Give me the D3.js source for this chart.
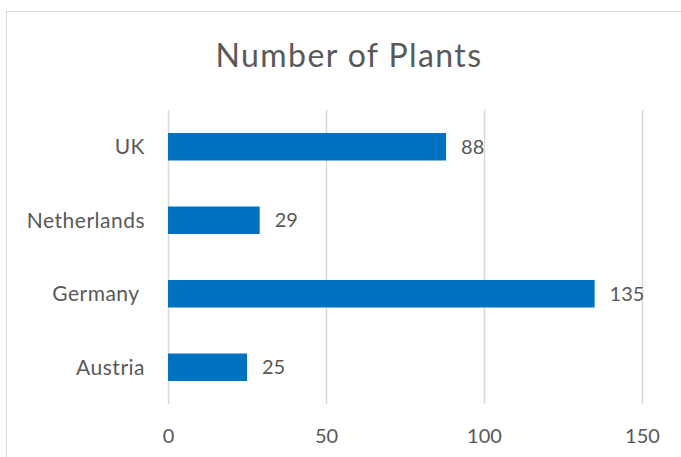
<!DOCTYPE html>
<html>
<head>
<meta charset="utf-8">
<script src="https://cdn.jsdelivr.net/npm/d3@7/dist/d3.min.js"></script>
<style>
  html, body { margin: 0; padding: 0; background: #fff; }
  svg { display: block; }
  text { font-family: Lato, "Open Sans", sans-serif; fill: #595959; }
</style>
</head>
<body>
<svg id="chart" width="681" height="457"></svg>
<script>
const title = "Number of Plants";
const categories = ["UK", "Netherlands", "Germany ", "Austria"];
const values = [88, 29, 135, 25];
const xTicks = [0, 50, 100, 150];

const svg = d3.select("#chart");

// chart border
svg.append("rect")
  .attr("x", 6.5).attr("y", 11.5)
  .attr("width", 720).attr("height", 520)
  .attr("fill", "#fff").attr("stroke", "#D9D9D9").attr("stroke-width", 1);

const x = d3.scaleLinear().domain([0, 150]).range([168, 642]);
const y = d3.scaleBand().domain(categories).range([110, 404])
  .paddingInner(0.626).paddingOuter(0.313);

// gridlines
svg.append("g").selectAll("line").data(xTicks).join("line")
  .attr("x1", d => Math.round(x(d)) + 0.5).attr("x2", d => Math.round(x(d)) + 0.5)
  .attr("y1", 110).attr("y2", 404)
  .attr("stroke", "#D9D9D9").attr("stroke-width", 1.5);

// x axis labels
const xAxis = d3.axisBottom(x).tickValues(xTicks).tickSize(0).tickPadding(0).tickFormat(d3.format("d"));
const gx = svg.append("g").attr("transform", "translate(0,436)").call(xAxis);
gx.select(".domain").remove();
gx.selectAll("text").attr("font-size", 20).attr("dy", "0.36em").style("fill", "#595959")
  .style("font-family", "Lato, 'Open Sans', sans-serif");

// y axis labels
const yAxis = d3.axisLeft(y).tickSize(0).tickPadding(0);
const gy = svg.append("g").attr("transform", "translate(145,0)").call(yAxis);
gy.select(".domain").remove();
gy.selectAll("text").attr("font-size", 21).attr("dy", "0.36em")
  .style("letter-spacing", "0.5px").style("white-space", "pre").style("fill", "#595959")
  .style("font-family", "Lato, 'Open Sans', sans-serif");

// bars
const data = categories.map((c, i) => ({ c, v: values[i] }));
svg.append("g").selectAll("rect").data(data).join("rect")
  .attr("x", x(0)).attr("y", d => y(d.c))
  .attr("width", d => x(d.v) - x(0)).attr("height", y.bandwidth())
  .attr("fill", "#0070C0");

// data labels
svg.append("g").selectAll("text").data(data).join("text")
  .attr("x", d => x(d.v) + 15).attr("y", d => y(d.c) + y.bandwidth() / 2)
  .attr("dy", "0.36em").attr("font-size", 20)
  .text(d => d.v);

// title
svg.append("text")
  .attr("x", 349).attr("y", 67)
  .attr("text-anchor", "middle").attr("font-size", 32).attr("font-weight", 400)
  .style("letter-spacing", "1.4px")
  .text(title);
</script>
</body>
</html>
